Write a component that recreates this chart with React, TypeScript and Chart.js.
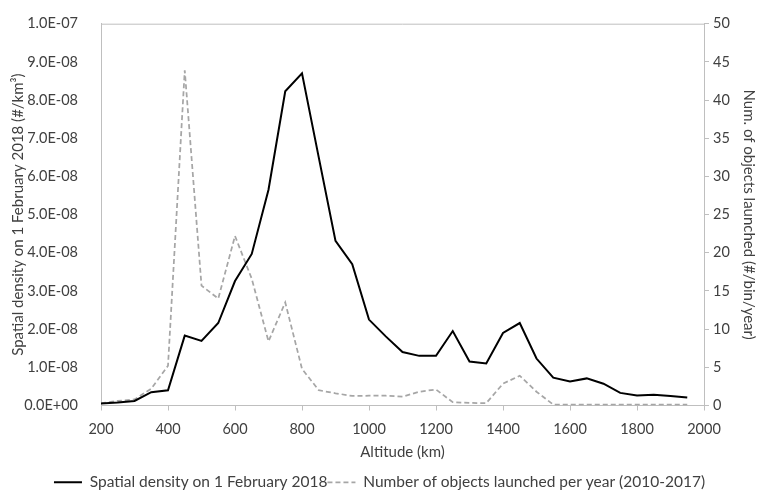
import React, { useEffect, useRef } from "react";
import { Chart, registerables } from "chart.js";

Chart.register(...registerables);

const altitudes = [
  200, 250, 300, 350, 400, 450, 500, 550, 600, 650, 700, 750, 800, 850, 900, 950,
  1000, 1050, 1100, 1150, 1200, 1250, 1300, 1350, 1400, 1450, 1500, 1550, 1600,
  1650, 1700, 1750, 1800, 1850, 1900, 1950,
];

const spatialDensity = [
  0.05e-8, 0.08e-8, 0.12e-8, 0.35e-8, 0.4e-8, 1.83e-8, 1.69e-8, 2.16e-8, 3.26e-8,
  3.97e-8, 5.65e-8, 8.23e-8, 8.7e-8, 6.5e-8, 4.31e-8, 3.7e-8, 2.25e-8, 1.81e-8,
  1.4e-8, 1.3e-8, 1.3e-8, 1.95e-8, 1.15e-8, 1.1e-8, 1.9e-8, 2.16e-8, 1.23e-8,
  0.73e-8, 0.63e-8, 0.71e-8, 0.57e-8, 0.33e-8, 0.26e-8, 0.28e-8, 0.25e-8, 0.21e-8,
];

const objectsLaunched = [
  0.3, 0.6, 0.8, 2.2, 5.2, 43.9, 15.7, 14.0, 22.2, 16.6, 8.4, 13.5, 4.8, 2.0, 1.6,
  1.25, 1.28, 1.28, 1.15, 1.8, 2.1, 0.43, 0.34, 0.3, 2.86, 3.9, 1.8, 0.13, 0.1, 0.1,
  0.1, 0.1, 0.1, 0.1, 0.1, 0.1,
];

const xTicks = [200, 400, 600, 800, 1000, 1200, 1400, 1600, 1800, 2000];

const FONT = "Lato, 'Open Sans', sans-serif";
const TEXT = "#404040";
const AXIS = "#bfbfbf";

function sci(v: number): string {
  if (Math.abs(v) < 1e-20) return "0.0E+00";
  const e = Math.floor(Math.log10(Math.abs(v)) + 1e-9);
  const m = v / Math.pow(10, e);
  const sign = e < 0 ? "-" : "+";
  const ae = Math.abs(e);
  return m.toFixed(1) + "E" + sign + (ae < 10 ? "0" : "") + ae;
}

const frame = {
  id: "frame",
  afterDatasetsDraw(chart: any) {
    const { ctx, chartArea } = chart;
    ctx.save();
    ctx.strokeStyle = AXIS;
    ctx.lineWidth = 1;
    ctx.beginPath();
    ctx.moveTo(chartArea.left, chartArea.top + 0.5);
    ctx.lineTo(chartArea.right, chartArea.top + 0.5);
    ctx.stroke();
    ctx.restore();
  },
};

export default function App() {
  const ref = useRef<HTMLCanvasElement | null>(null);
  useEffect(() => {
    if (!ref.current) return;
    const chart = new Chart(ref.current, {
      type: "line",
      data: {
        datasets: [
          {
            label: "Spatial density on 1 February 2018",
            data: altitudes.map((a, i) => ({ x: a, y: spatialDensity[i] })),
            borderColor: "#000000",
            backgroundColor: "#000000",
            borderWidth: 2,
            pointRadius: 0,
            yAxisID: "y",
          },
          {
            label: "Number of objects launched per year (2010-2017)",
            data: altitudes.map((a, i) => ({ x: a, y: objectsLaunched[i] })),
            borderColor: "#a6a6a6",
            backgroundColor: "#a6a6a6",
            borderWidth: 1.75,
            borderDash: [5, 3],
            pointRadius: 0,
            yAxisID: "y1",
          },
        ],
      },
      options: {
        responsive: false,
        animation: false,
        layout: { padding: { top: 13, left: 0, right: 0, bottom: -6 } },
        plugins: {
          tooltip: { enabled: false },
          legend: {
            position: "bottom",
            labels: {
              usePointStyle: true,
              pointStyle: "line",
              pointStyleWidth: 28,
              boxHeight: 8,
              color: TEXT,
              font: { family: FONT, size: 15.5 },
              padding: 0,
              generateLabels: (c: any) => {
                const items = Chart.defaults.plugins.legend.labels.generateLabels(c);
                return items.map((it: any, i: number) => ({
                  ...it,
                  lineDash: c.data.datasets[i].borderDash || [],
                  lineWidth: c.data.datasets[i].borderWidth,
                  strokeStyle: c.data.datasets[i].borderColor,
                }));
              },
            },
          },
        },
        scales: {
          x: {
            type: "linear",
            min: 200,
            max: 2000,
            afterBuildTicks: (s: any) => {
              s.ticks = xTicks.map((v) => ({ value: v }));
            },
            afterFit: (s: any) => {
              s.height = 69;
            },
            grid: { display: true, drawOnChartArea: false, drawTicks: true, tickLength: 5, color: AXIS },
            border: { color: AXIS },
            ticks: {
              color: TEXT,
              font: { family: FONT, size: 14.5 },
              padding: 10,
              maxRotation: 0,
              callback: (v: any) => String(v),
            },
            title: {
              display: true,
              text: "Altitude (km)",
              color: TEXT,
              font: { family: FONT, size: 15 },
              padding: { top: 2, bottom: 13 },
            },
          },
          y: {
            type: "linear",
            position: "left",
            min: 0,
            max: 1e-7,
            afterBuildTicks: (s: any) => {
              const t = [];
              for (let i = 0; i <= 10; i++) t.push({ value: i * 1e-8 });
              s.ticks = t;
            },
            afterFit: (s: any) => {
              s.width = 101;
            },
            grid: { display: false },
            border: { color: AXIS },
            ticks: {
              color: TEXT,
              font: { family: FONT, size: 14.5 },
              padding: 15,
              callback: (v: any) => sci(Number(v)),
            },
            title: {
              display: true,
              text: "Spatial density on 1 February 2018 (#/km³)",
              color: TEXT,
              font: { family: FONT, size: 15 },
              padding: { top: 9, bottom: 0 },
            },
          },
          y1: {
            type: "linear",
            position: "right",
            min: 0,
            max: 50,
            afterFit: (s: any) => {
              s.width = 55;
            },
            grid: { display: true, drawOnChartArea: false, drawTicks: true, tickLength: 5, color: AXIS },
            border: { color: AXIS },
            ticks: { stepSize: 5, color: TEXT, font: { family: FONT, size: 14.5 }, padding: 4 },
            title: {
              display: true,
              text: "Num. of objects launched (#/bin/year)",
              color: TEXT,
              font: { family: FONT, size: 15 },
              padding: { top: 1, bottom: 0 },
            },
          },
        },
      },
      plugins: [frame],
    } as any);
    return () => chart.destroy();
  }, []);
  return (
    <div style={{ position: "fixed", left: 0, top: 0, width: 759, height: 494, background: "#fff" }}>
      <canvas ref={ref} width={759} height={494} style={{ display: "block" }} />
    </div>
  );
}
